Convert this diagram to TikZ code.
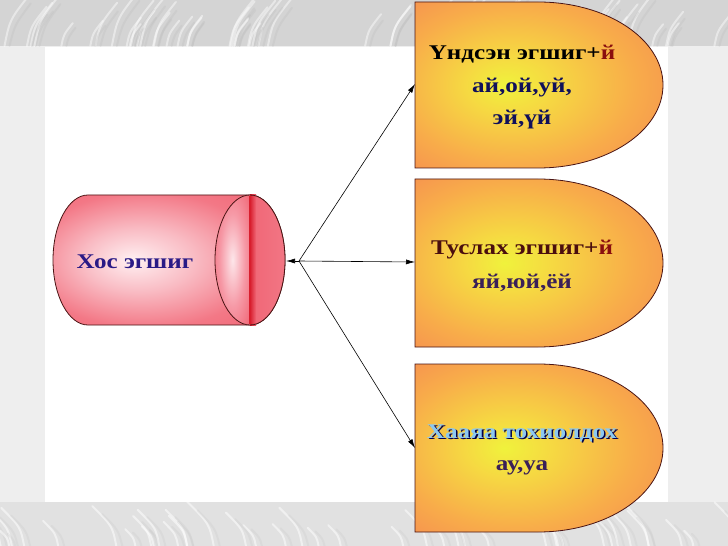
\documentclass[tikz,border=0pt]{standalone}
\usepackage{fontspec}
\usepackage{graphicx}
\setmainfont{Liberation Serif}
\usetikzlibrary{arrows.meta}
\definecolor{outl}{HTML}{4A1414}
\definecolor{navy}{HTML}{10105A}
\definecolor{maroon}{HTML}{4A0E0E}
\definecolor{plum}{HTML}{3A2058}
\definecolor{jred}{HTML}{8A0E0E}
\definecolor{lblue}{HTML}{8CC8F0}
\definecolor{cyltxt}{HTML}{2A1A86}
\definecolor{by0}{HTML}{F0F23C}
\definecolor{by1}{HTML}{F6D842}
\definecolor{by2}{HTML}{F8AC4A}
\definecolor{by3}{HTML}{F47C54}
\definecolor{by4}{HTML}{EE5E5C}
\definecolor{cy0}{HTML}{FFF0F2}
\definecolor{cy1}{HTML}{F9BCC4}
\definecolor{cy2}{HTML}{F37886}
\definecolor{cy3}{HTML}{F06070}
\definecolor{cy4}{HTML}{EC5666}
\definecolor{ce0}{HTML}{FDE6EA}
\definecolor{ce1}{HTML}{F699A6}
\definecolor{ce2}{HTML}{EE5262}
\definecolor{ce3}{HTML}{E63444}
\definecolor{stripe}{HTML}{D81E2E}
\definecolor{cr1}{HTML}{F06676}
\definecolor{cr2}{HTML}{F27684}
\definecolor{bgband}{HTML}{D4D4D4}
\definecolor{bgside}{HTML}{EEEEEE}
\pgfdeclareradialshading{boxshade}{\pgfpoint{-7bp}{0bp}}{%
  color(0bp)=(by0); color(9bp)=(by1); color(24bp)=(by2);
  color(44bp)=(by3); color(70bp)=(by4)}
\pgfdeclareradialshading{cylshade}{\pgfpoint{-8bp}{0bp}}{%
  color(0bp)=(cy0); color(12bp)=(cy1); color(26bp)=(cy2);
  color(40bp)=(cy3); color(70bp)=(cy4)}
\pgfdeclareradialshading{endshade}{\pgfpoint{0bp}{0bp}}{%
  color(0bp)=(ce0); color(18bp)=(ce1); color(42bp)=(ce2); color(70bp)=(ce3)}
\newcommand\shdk[2]{\rlap{\hspace{1.3pt}\raisebox{-1.3pt}{\textcolor{black!70!blue}{#2}}}\textcolor{#1}{#2}}
\newcommand\wide[1]{\scalebox{1.2}[1]{#1}}
\newcommand\delaybox[2]{%
  \path[boxstyle] (415,#1) -- (538,#1)
    arc[start angle=-90,end angle=90,x radius=125,y radius=(#2-#1)/2]
    -- (415,#2) -- cycle;}
\begin{document}
\begin{tikzpicture}[x=1bp,y=-1bp,
  boxstyle/.style={draw=outl,line width=0.8bp,shading=boxshade},
  txt/.style={font=\fontsize{21}{24}\selectfont\bfseries,anchor=base,inner sep=0pt},
  conn/.style={draw=black,line width=0.6bp,-{Latex[length=9bp,width=5bp]}},
  streak/.style={line width=2bp,line cap=round}]
\useasboundingbox (0,0) rectangle (728,546);
% background
\fill[bgside] (0,0) rectangle (728,546);
\fill[bgband] (0,0) rectangle (728,46);
\fill[bgband!50!bgside] (0,502) rectangle (728,546);
\pgfmathsetseed{11}
\foreach \i in {1,...,60}{
  \pgfmathsetmacro\sx{rnd*760}
  \pgfmathsetmacro\sl{20+rnd*40}
  \draw[streak,white,opacity=0.45] (\sx,46) .. controls +(\sl*0.1,-\sl*0.5) .. ++(\sl*0.5,-\sl);
  \draw[streak,black!30,opacity=0.2] (\sx+5,46) .. controls +(\sl*0.1,-\sl*0.4) .. ++(\sl*0.4,-\sl*0.8);
}
\foreach \i in {1,...,40}{
  \pgfmathsetmacro\sx{rnd*760}
  \pgfmathsetmacro\sl{15+rnd*30}
  \draw[streak,white,opacity=0.5] (\sx,546) .. controls +(-\sl*0.1,-\sl*0.5) .. ++(-\sl*0.6,-\sl);
  \draw[streak,black!25,opacity=0.2] (\sx+6,546) .. controls +(-\sl*0.1,-\sl*0.4) .. ++(-\sl*0.5,-\sl*0.8);
}
\fill[white] (45,47) rectangle (668,502);
% cylinder
\path[draw=outl,line width=0.8bp,shading=cylshade]
  (88,195) -- (250,195) arc[start angle=-90,end angle=90,x radius=35,y radius=65]
  -- (88,325) arc[start angle=90,end angle=270,x radius=35,y radius=65] -- cycle;
\path[shading=endshade] (250,195) arc[start angle=-90,end angle=-270,x radius=35,y radius=65] -- cycle;
\path[left color=cr1,right color=cr2] (250,195) arc[start angle=-90,end angle=90,x radius=35,y radius=65] -- cycle;
\path[left color=stripe,right color=cr1] (250,195) rectangle (256,325);
\draw[stripe,line width=1.5bp] (250,196) -- (250,324);
\draw[outl,line width=0.8bp] (250,260) ellipse[x radius=35,y radius=65];
\coordinate (cyl) at (286,261);
\node[txt] (cyltext) at (135,269) {\wide{\textcolor{cyltxt}{Хос эгшиг}}};
% boxes
\delaybox{2}{168}
\delaybox{179}{347}
\delaybox{364}{532}
\coordinate (b1) at (415,84);
\coordinate (b2) at (415,262);
\coordinate (b3) at (415,448);
\node[txt] (t11) at (522,60) {\wide{\textcolor{black}{Үндсэн эгшиг+}\textcolor{jred}{й}}};
\node[txt] (t12) at (522,93) {\wide{\textcolor{navy}{ай,ой,уй,}}};
\node[txt] (t13) at (522,125) {\wide{\textcolor{navy}{эй,үй}}};
\node[txt] (t21) at (522,255) {\wide{\textcolor{maroon}{Туслах эгшиг+}\textcolor{jred}{й}}};
\node[txt] (t22) at (522,289) {\wide{\textcolor{plum}{яй,юй,ёй}}};
\node[txt] (t31) at (522,438) {\wide{\shdk{lblue}{Хааяа тохиолдох}}};
\node[txt] (t32) at (522,470) {\wide{\textcolor{plum}{ау,уа}}};
% connectors
\coordinate (hub) at (299,261);
\draw[conn] (hub) -- (cyl);
\draw[conn] (hub) -- (b1);
\draw[conn] (hub) -- (b2);
\draw[conn] (hub) -- (b3);
\end{tikzpicture}
\end{document}
